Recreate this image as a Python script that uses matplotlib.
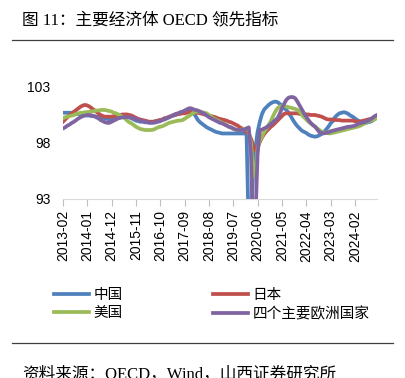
import numpy as np
import pandas as pd
import matplotlib
matplotlib.use("Agg")
import matplotlib.pyplot as plt
from matplotlib.lines import Line2D

plt.rcParams['font.family'] = ['Liberation Sans', 'Noto Sans CJK SC', 'DejaVu Sans']

# Monthly OECD CLI, 2013-02 .. 2024-12
months = pd.period_range('2013-02', '2024-12', freq='M').strftime('%Y-%m').tolist()

china = [
    100.7, 100.7, 100.7, 100.7, 100.7, 100.65,
    100.6, 100.6, 100.55, 100.5, 100.5,
    100.45, 100.45, 100.4, 100.4, 100.35, 100.35,
    100.3, 100.25, 100.2, 100.15, 100.1,
    100.1, 100.15, 100.2, 100.25, 100.3, 100.35, 100.35, 100.35,
    100.3, 100.2, 100.1, 100.0, 99.95, 99.9, 99.9,
    99.85, 99.85, 99.85, 99.85, 99.9,
    99.95, 100.0, 100.05, 100.1, 100.2,
    100.25, 100.3, 100.4, 100.45, 100.5, 100.6, 100.65,
    100.7, 100.75, 100.8, 100.8, 100.8, 100.7,
    100.4, 100.05, 99.85, 99.7, 99.55, 99.4, 99.3,
    99.2, 99.1, 99.0, 98.95, 98.9,
    98.85, 98.85, 98.85, 98.85, 98.85, 98.85, 98.85, 98.85, 98.85, 98.85, 98.85, 98.9,
    90.0, 91.0, 95.5, 97.5, 99.0, 99.9, 100.6, 101.0,
    101.2, 101.4, 101.55, 101.65, 101.7, 101.65, 101.5,
    101.3, 101.1, 100.95, 100.7, 100.4, 100.05, 99.75,
    99.5, 99.3, 99.1, 99.0, 98.9, 98.75, 98.65, 98.6, 98.56,
    98.6, 98.7, 98.8, 99.0, 99.2, 99.45, 99.75,
    99.95, 100.3, 100.5, 100.65, 100.7, 100.75, 100.7,
    100.6, 100.45, 100.35, 100.2, 100.05, 99.95, 99.85,
    99.8, 99.8, 99.85, 99.9, 100.0, 100.15, 100.35,
]

japan = [
    99.9, 100.1, 100.3, 100.5, 100.65, 100.8,
    100.95, 101.1, 101.25, 101.35, 101.4,
    101.35, 101.25, 101.1, 100.95, 100.8, 100.65,
    100.5, 100.4, 100.35, 100.35, 100.35,
    100.35, 100.4, 100.4, 100.45, 100.5, 100.55, 100.55, 100.55,
    100.5, 100.45, 100.35, 100.25, 100.15, 100.1, 100.05,
    100.0, 99.95, 99.9, 99.9, 99.9,
    99.95, 100.0, 100.05, 100.1, 100.2,
    100.25, 100.35, 100.4, 100.5, 100.55, 100.6, 100.6,
    100.65, 100.65, 100.7, 100.75, 100.75, 100.7,
    100.7, 100.7, 100.65, 100.6, 100.55, 100.5, 100.45,
    100.4, 100.35, 100.3, 100.2, 100.15,
    100.1, 100.05, 100.0, 99.9, 99.85, 99.75, 99.65, 99.55, 99.4, 99.3, 99.15, 99.0,
    98.8, 98.4, 97.8, 97.3, 97.6, 98.1, 98.5, 98.8,
    99.05, 99.25, 99.45, 99.6, 99.8, 100.0, 100.2,
    100.4, 100.6, 100.65, 100.65, 100.65, 100.65, 100.65,
    100.65, 100.6, 100.6, 100.6, 100.55, 100.55, 100.5, 100.5, 100.5,
    100.45, 100.4, 100.35, 100.25, 100.15, 100.1, 100.1,
    100.1, 100.05, 100.05, 100.05, 100.0, 100.0, 100.0,
    100.0, 100.0, 100.0, 99.95, 99.9, 99.9, 99.95,
    100.0, 100.05, 100.1, 100.15, 100.2, 100.25, 100.3,
]

usa = [
    100.2, 100.3, 100.35, 100.4, 100.45, 100.5,
    100.6, 100.65, 100.7, 100.7, 100.75,
    100.75, 100.8, 100.8, 100.85, 100.9, 100.9,
    100.95, 100.95, 100.95, 100.9, 100.85,
    100.8, 100.7, 100.65, 100.55, 100.45, 100.3, 100.2, 100.0,
    99.85, 99.75, 99.6, 99.45, 99.35, 99.25, 99.2,
    99.16, 99.16, 99.16, 99.16, 99.2,
    99.3, 99.4, 99.45, 99.5, 99.6,
    99.7, 99.8, 99.85, 99.9, 99.95, 100.0, 100.0,
    100.05, 100.15, 100.3, 100.4, 100.55, 100.7,
    100.8, 100.8, 100.8, 100.75, 100.7, 100.65, 100.5,
    100.35, 100.2, 100.1, 100.0, 99.9,
    99.8, 99.7, 99.6, 99.45, 99.35, 99.25, 99.2, 99.16, 99.16, 99.2, 99.25, 99.3,
    99.0, 98.0, 95.0, 95.5, 97.5, 98.2, 98.6, 99.0,
    99.3, 99.6, 99.95, 100.4, 100.8, 101.1, 101.25,
    101.3, 101.3, 101.25, 101.2, 101.15, 101.1, 101.05,
    100.95, 100.8, 100.5, 100.3, 100.1, 99.9, 99.75, 99.6, 99.46,
    99.3, 99.15, 99.0, 98.95, 98.9, 98.86, 98.86,
    98.9, 98.95, 99.0, 99.05, 99.1, 99.15, 99.2,
    99.25, 99.3, 99.35, 99.4, 99.45, 99.5, 99.6,
    99.7, 99.8, 99.9, 100.0, 100.05, 100.15, 100.2,
]

europe4 = [
    99.3, 99.4, 99.55, 99.65, 99.8, 99.9,
    100.05, 100.2, 100.3, 100.4, 100.45,
    100.5, 100.5, 100.45, 100.4, 100.3, 100.2,
    100.05, 99.95, 99.85, 99.8, 99.8,
    99.9, 100.0, 100.1, 100.2, 100.25, 100.3, 100.3, 100.3,
    100.3, 100.25, 100.2, 100.15, 100.05, 100.0, 99.95,
    99.9, 99.85, 99.8, 99.8, 99.8,
    99.85, 99.9, 99.95, 100.05, 100.1,
    100.2, 100.3, 100.4, 100.5, 100.6, 100.65, 100.75,
    100.8, 100.9, 101.0, 101.1, 101.1, 101.0,
    100.95, 100.9, 100.8, 100.7, 100.6, 100.45, 100.3,
    100.2, 100.1, 100.0, 99.9, 99.8,
    99.75, 99.65, 99.55, 99.45, 99.4, 99.3, 99.2, 99.16, 99.16, 99.16, 99.2, 99.3,
    99.4, 97.0, 90.0, 91.0, 97.0, 99.16, 99.2, 99.3,
    99.4, 99.55, 99.7, 99.85, 100.05, 100.2, 100.6,
    101.1, 101.5, 101.85, 102.05, 102.1, 102.1, 102.0,
    101.7, 101.35, 101.0, 100.65, 100.35, 100.05, 99.8, 99.6, 99.46,
    99.2, 98.95, 98.9, 98.86, 98.9, 98.95, 99.05,
    99.1, 99.16, 99.2, 99.25, 99.3, 99.35, 99.4,
    99.45, 99.46, 99.5, 99.55, 99.65, 99.75, 99.8,
    99.85, 99.9, 100.0, 100.1, 100.25, 100.4, 100.5,
]

series = [
    ('中国', china, '#4f81bd'),
    ('日本', japan, '#c0504d'),
    ('美国', usa, '#9bbb59'),
    ('四个主要欧洲国家', europe4, '#8064a2'),
]

fig = plt.figure(figsize=(4.06, 3.78), dpi=100)
ax = fig.add_axes([63 / 406, 1 - 199 / 378, 314 / 406, 112 / 378])

x = np.arange(len(months))
lines = {}
for name, vals, color in series:
    lines[name], = ax.plot(x, vals, color=color, lw=2.7, solid_joinstyle='round')

ax.set_xlim(0, len(months) - 1)
ax.set_ylim(93, 103)
ax.set_yticks([93, 98, 103])
tick_pos = x[::11]
ax.set_xticks(tick_pos)
ax.set_xticklabels([months[i] for i in tick_pos], rotation=90, fontsize=10)
ax.tick_params(axis='x', length=5, color='#bfbfbf', pad=3)
ax.tick_params(axis='y', length=0, pad=9, labelsize=10)
for s in ['top', 'right', 'left']:
    ax.spines[s].set_visible(False)
ax.spines['bottom'].set_color('#d9d9d9')

order = ['中国', '美国', '日本', '四个主要欧洲国家']
fig.legend([lines[n] for n in order], order, ncol=2, frameon=False,
           loc='upper left', bbox_to_anchor=(41 / 406, 1 - 275 / 378),
           fontsize=10.5, handlelength=2.4, handletextpad=0.3,
           columnspacing=6.2, labelspacing=0.3)

title_font = ['Liberation Serif', 'Noto Sans CJK SC']
fig.text(22 / 406, 1 - 20 / 378, '图 11：主要经济体 OECD 领先指标', fontsize=12,
         family=title_font, va='center', ha='left')
fig.add_artist(Line2D([12 / 406, 393 / 406], [1 - 40 / 378] * 2, color='#404040', lw=0.9))
fig.add_artist(Line2D([12 / 406, 393 / 406], [1 - 343 / 378] * 2, color='#404040', lw=0.9))
fig.text(22 / 406, 1 - 366 / 378, '资料来源：OECD，Wind，山西证券研究所', fontsize=12,
         family=title_font, va='top', ha='left')

fig.savefig('out.png', dpi=100)
